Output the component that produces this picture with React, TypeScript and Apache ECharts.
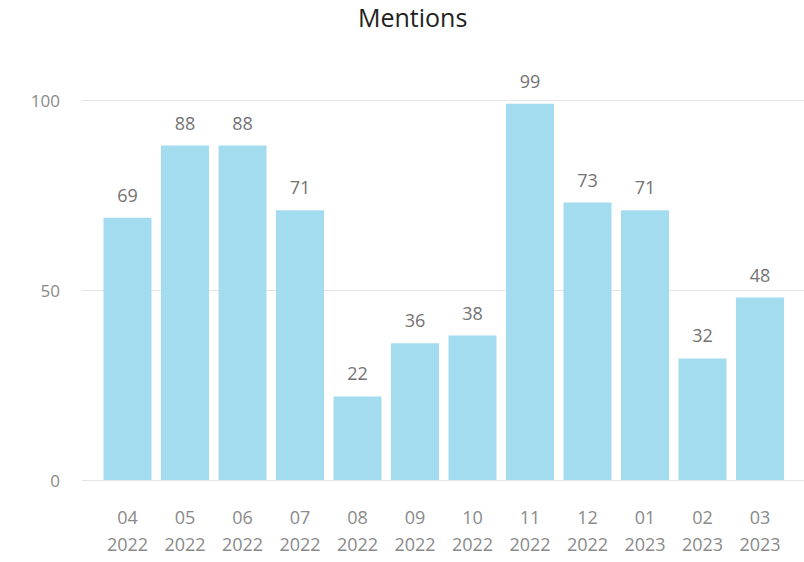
import React, { useEffect, useRef } from "react";
import * as echarts from "echarts";

const months = ["04", "05", "06", "07", "08", "09", "10", "11", "12", "01", "02", "03"];
const years = ["2022", "2022", "2022", "2022", "2022", "2022", "2022", "2022", "2022", "2023", "2023", "2023"];
const mentions = [69, 88, 88, 71, 22, 36, 38, 99, 73, 71, 32, 48];
const yTicks = { min: 0, max: 100, interval: 50 };

export default function App() {
  const ref = useRef<HTMLDivElement>(null);
  useEffect(() => {
    if (!ref.current) return;
    const chart = echarts.init(ref.current, undefined, { renderer: "svg" });
    const categories = months.map((m, i) => `${m}\n${years[i]}`);
    const font = "'Open Sans', 'Noto Sans', sans-serif";
    chart.setOption({
      animation: false,
      backgroundColor: "#ffffff",
      title: {
        text: "Mentions",
        left: 358,
        top: 4,
        padding: 0,
        textStyle: { fontFamily: font, fontSize: 25, fontWeight: "normal", color: "#222222" },
      },
      grid: [
        { left: 98.75, right: 15.25, top: 100, bottom: 82 },
        { left: 82, right: 0, top: 100, bottom: 82 },
      ],
      xAxis: [
        {
          type: "category",
          gridIndex: 0,
          data: categories,
          axisLine: { show: false },
          axisTick: { show: false },
          axisLabel: {
            fontFamily: font,
            fontSize: 18,
            color: "#8a8a8a",
            lineHeight: 27.5,
            margin: 23,
            interval: 0,
          },
        },
        { type: "value", gridIndex: 1, min: 0, max: 1, show: false },
      ],
      yAxis: [
        { type: "value", gridIndex: 0, ...yTicks, show: false },
        {
          type: "value",
          gridIndex: 1,
          ...yTicks,
          axisLine: { show: false },
          axisTick: { show: false },
          splitLine: { lineStyle: { color: "#e4e4e4", width: 1 } },
          axisLabel: { fontFamily: font, fontSize: 17, color: "#8a8a8a", margin: 22 },
        },
      ],
      series: [
        {
          type: "bar",
          xAxisIndex: 0,
          yAxisIndex: 0,
          data: mentions,
          barWidth: 48,
          itemStyle: { color: "#a4dcef" },
          label: {
            show: true,
            position: "top",
            distance: 14,
            fontFamily: font,
            fontSize: 18,
            color: "#737373",
          },
        },
      ],
    });
    return () => chart.dispose();
  }, []);
  return <div ref={ref} style={{ position: "fixed", left: 0, top: 0, width: 804, height: 562 }} />;
}
